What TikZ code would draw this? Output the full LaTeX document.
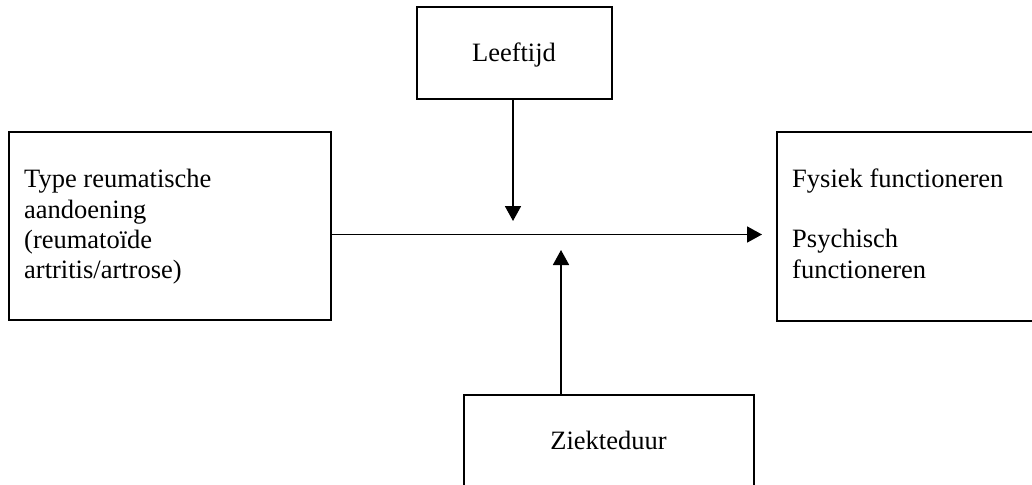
\documentclass[tikz,border=0pt]{standalone}
\usepackage{fontspec}
\setmainfont{Liberation Serif}
\usetikzlibrary{arrows.meta}
\tikzset{
  box/.style={draw, line width=2pt, rectangle, inner sep=0pt, outer sep=0pt},
  txt/.style={inner sep=0pt, anchor=base west, font=\fontsize{26.5}{30.5}\selectfont},
  ctxt/.style={inner sep=0pt, anchor=base, font=\fontsize{26.5}{30.5}\selectfont},
  arr/.style={line width=1.8pt, -{Triangle[length=15pt,width=16pt]}}
}
\begin{document}
\begin{tikzpicture}[x=1pt,y=-1pt]
\clip (0,0) rectangle (1032,484);
\fill[white] (0,0) rectangle (1032,484);
% boxes
\node[box, minimum width=322pt, minimum height=188pt] (left) at (170,226) {};
\node[box, minimum width=323pt, minimum height=189pt] (right) at (938.5,226.5) {};
\node[box, minimum width=195pt, minimum height=92pt] (top) at (514.5,53) {};
\node[box, minimum width=290pt, minimum height=165pt] (bottom) at (609,477.5) {};
% texts
\node[txt] (l1) at (24,187) {Type reumatische};
\node[txt] (l2) at (24,218) {aandoening};
\node[txt] (l3) at (24,248) {(reumatoïde};
\node[txt] (l4) at (24,278) {artritis/artrose)};
\node[txt] (r1) at (792,187) {Fysiek functioneren};
\node[txt] (r2) at (792,247) {Psychisch};
\node[txt] (r3) at (792,278) {functioneren};
\node[ctxt] (t1) at (514,62) {Leeftijd};
\node[ctxt] (b1) at (608.5,449) {Ziekteduur};
% connectors
\coordinate (hy) at (0,234.5);
\coordinate (hend) at (762,234.5);
\coordinate (dtip) at (513,221);
\coordinate (utip) at (561,250);
\draw[arr] (left.east |- hy) -- (hend);
\draw[arr] (top.south -| dtip) -- (dtip);
\draw[arr] (bottom.north -| utip) -- (utip);
\end{tikzpicture}
\end{document}
